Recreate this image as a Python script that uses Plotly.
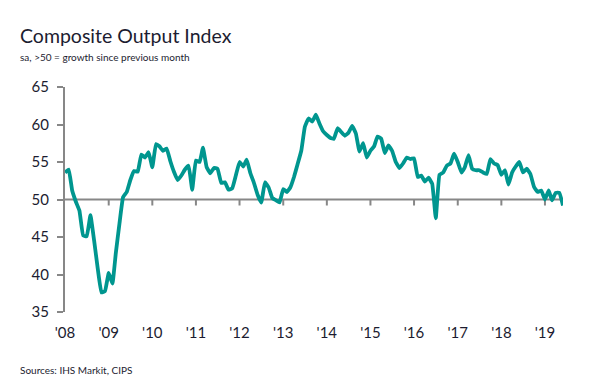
import plotly.graph_objects as go
import pandas as pd

# Monthly composite output index, Jan 2008 - Jun 2019
values = [
    # 2008
    53.6, 54.0, 51.2, 49.7, 48.5, 45.2, 45.1, 47.9, 44.5, 40.8, 37.6, 37.8,
    # 2009
    40.2, 38.8, 42.8, 46.8, 50.3, 51.0, 52.6, 53.8, 53.7, 56.0, 55.6, 56.3,
    # 2010
    54.3, 57.4, 57.1, 56.5, 56.8, 55.1, 53.7, 52.6, 53.2, 54.0, 54.5, 51.3,
    # 2011
    55.2, 55.0, 56.9, 54.3, 53.5, 54.2, 54.1, 52.2, 52.3, 51.3, 51.5, 53.2,
    # 2012
    55.0, 54.4, 55.3, 53.5, 52.2, 50.6, 49.6, 52.3, 51.6, 50.2, 49.9, 49.6,
    # 2013
    51.4, 51.0, 51.6, 53.0, 54.7, 56.5, 59.7, 60.8, 60.4, 61.3, 60.1, 59.1,
    # 2014
    58.6, 58.2, 58.1, 59.5, 59.0, 58.5, 58.9, 59.8, 58.8, 56.4, 57.5, 55.6,
    # 2015
    56.5, 57.1, 58.4, 58.1, 56.2, 57.2, 56.5, 55.0, 54.2, 54.8, 55.6, 55.4,
    # 2016
    55.5, 53.0, 53.2, 52.4, 52.9, 52.1, 47.5, 53.3, 53.6, 54.5, 54.8, 56.1,
    # 2017
    55.0, 53.6, 54.3, 55.9, 54.1, 53.9, 53.9, 53.6, 53.4, 55.4, 54.8, 54.6,
    # 2018
    53.3, 53.9, 52.0, 53.6, 54.4, 55.0, 53.6, 54.1, 53.4, 51.7, 51.0, 51.2,
    # 2019
    50.0, 51.2, 49.9, 50.9, 50.9, 49.2,
]
dates = pd.date_range("2008-01-01", periods=len(values), freq="MS")

tick_years = list(range(2008, 2020))
tick_labels = ["'08", "'09", "'10", "'11", "'12", "'13", "'14", "'15", "'16", "'17", "'18", "'19"]
y_ticks = [35, 40, 45, 50, 55, 60, 65]

TEXT = "#1c1c30"
AXIS = "#878787"
LINE = "#00968f"
FONT = "Lato"

fig = go.Figure()
fig.add_trace(go.Scatter(
    x=dates, y=values, mode="lines",
    line=dict(color=LINE, width=3.8, shape="spline", smoothing=0.3),
    hoverinfo="x+y", showlegend=False,
))

tick_dates = [pd.Timestamp(f"{y}-01-01") for y in tick_years]

# axis line at 50 with downward ticks
shapes = [dict(type="line", xref="x", yref="y", x0=dates[0], x1=dates[-1], y0=50, y1=50,
               line=dict(color=AXIS, width=2), layer="below")]
for d in tick_dates[1:]:
    shapes.append(dict(type="line", xref="x", yref="y", ysizemode="pixel", yanchor=50,
                       x0=d, x1=d, y0=0, y1=-6, line=dict(color=AXIS, width=2), layer="below"))

L, R, T, B = 65, 28, 87, 77
PW = 591 - L - R

fig.update_layout(
    width=591, height=389,
    margin=dict(l=L, r=R, t=T, b=B),
    paper_bgcolor="white", plot_bgcolor="white",
    font=dict(family=FONT, color=TEXT),
    shapes=shapes,
    xaxis=dict(
        range=[dates[0], dates[-1]],
        tickmode="array", tickvals=tick_dates, ticktext=tick_labels,
        showgrid=False, zeroline=False, showline=False, ticks="",
        tickfont=dict(size=15, color=TEXT, family=FONT),
        ticklabelstandoff=10,
    ),
    yaxis=dict(
        range=[35, 65], tickmode="array", tickvals=y_ticks,
        showgrid=False, zeroline=False,
        showline=True, linecolor=AXIS, linewidth=2,
        ticks="outside", ticklen=6, tickwidth=2, tickcolor=AXIS,
        tickfont=dict(size=15, color=TEXT, family=FONT),
        ticklabelstandoff=5,
    ),
    annotations=[
        dict(text="Composite Output Index", xref="paper", yref="paper", x=(18 - L) / PW, y=1,
             xanchor="left", yanchor="bottom", yshift=38, showarrow=False,
             font=dict(size=19.5, color=TEXT, family=FONT)),
        dict(text="sa, >50 = growth since previous month", xref="paper", yref="paper", x=(18 - L) / PW, y=1,
             xanchor="left", yanchor="bottom", yshift=22, showarrow=False,
             font=dict(size=10, color=TEXT, family=FONT)),
        dict(text="Sources: IHS Markit, CIPS", xref="paper", yref="paper", x=(18 - L) / PW, y=0,
             xanchor="left", yanchor="top", yshift=-50, showarrow=False,
             font=dict(size=10, color=TEXT, family=FONT)),
    ],
)

fig.write_html("out.html", config={"displayModeBar": False},
               post_script="document.body.style.margin='0';")
